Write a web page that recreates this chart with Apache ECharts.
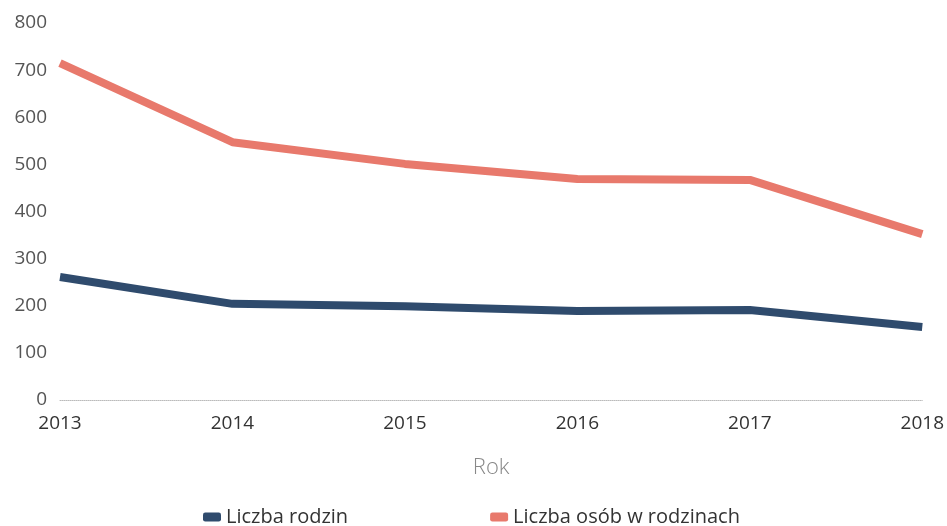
<!DOCTYPE html>
<html>
<head>
<meta charset="utf-8">
<script src="https://cdn.jsdelivr.net/npm/echarts@6/dist/echarts.min.js"></script>
<style>
html,body{margin:0;padding:0;background:#fff;}
#chart{width:947px;height:526px;}
</style>
</head>
<body>
<div id="chart"></div>
<script>
// dane
var lata = ['2013', '2014', '2015', '2016', '2017', '2018'];
var liczbaRodzin = [261, 204, 199, 189, 191, 155];
var liczbaOsob = [715, 547, 501, 469, 467, 352];
var nazwySerii = ['Liczba rodzin', 'Liczba osób w rodzinach'];

var myChart = echarts.init(document.getElementById('chart'));

var option = {
    backgroundColor: '#fff',
    animation: false,
    legend: {
        data: nazwySerii,
        left: 198,
        top: 502,
        itemGap: 142,
        icon: 'roundRect',
        itemWidth: 18,
        itemHeight: 9,
        textStyle: {
            fontFamily: 'Open Sans',
            fontSize: 20,
            color: '#333'
        }
    },
    grid: {
        left: 60,
        right: 24,
        top: 23,
        bottom: 126
    },
    xAxis: {
        type: 'category',
        boundaryGap: false,
        data: lata,
        name: 'Rok',
        nameLocation: 'middle',
        nameGap: 57,
        nameTextStyle: {
            fontFamily: 'Open Sans',
            fontSize: 22,
            fontWeight: 300,
            color: '#888'
        },
        axisLine: {
            lineStyle: {color: '#bbb', type: 'dotted', width: 1}
        },
        axisTick: {show: false},
        axisLabel: {
            margin: 14,
            fontFamily: 'Open Sans',
            fontSize: 19,
            color: '#333'
        }
    },
    yAxis: {
        type: 'value',
        min: 0,
        max: 800,
        interval: 100,
        axisLine: {show: false},
        axisTick: {show: false},
        splitLine: {show: false},
        axisLabel: {
            margin: 13,
            fontFamily: 'Open Sans',
            fontSize: 19,
            color: '#555'
        }
    },
    series: [
        {
            name: nazwySerii[0],
            type: 'line',
            data: liczbaRodzin,
            symbol: 'none',
            color: '#2f4b6d',
            lineStyle: {width: 8, color: '#2f4b6d'}
        },
        {
            name: nazwySerii[1],
            type: 'line',
            data: liczbaOsob,
            symbol: 'none',
            color: '#e8796c',
            lineStyle: {width: 8, color: '#e8796c'}
        }
    ]
};
myChart.setOption(option, true);
</script>
</body>
</html>
